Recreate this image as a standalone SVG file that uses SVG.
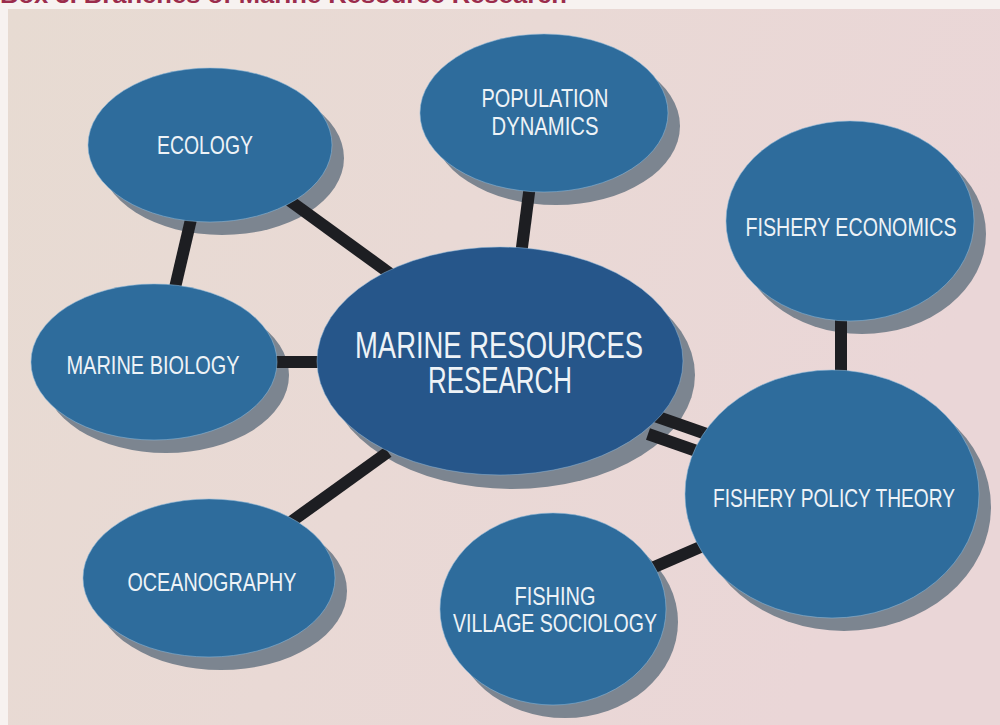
<svg xmlns="http://www.w3.org/2000/svg" width="1000" height="725" viewBox="0 0 1000 725">
  <defs>
    <linearGradient id="paper" x1="0" y1="0" x2="1" y2="0.3">
      <stop offset="0" stop-color="#e7dbd2"/>
      <stop offset="0.5" stop-color="#e9d9d5"/>
      <stop offset="1" stop-color="#ead6d7"/>
    </linearGradient>
    <style>
      .shadow { fill: #7c8590; }
      .node { fill: #2e6c9c; stroke: #8db8d9; stroke-width: 1; stroke-opacity: 0.55; }
      .hub { fill: #26568a; stroke: #8db8d9; stroke-width: 1; stroke-opacity: 0.5; }
      .link { stroke: #1d1e22; stroke-width: 12; stroke-linecap: butt; fill: none; }
      .label { fill: #eef3f7; font-family: "Liberation Sans", Arial, sans-serif; font-size: 25px; text-anchor: middle; }
      .hub-label { font-size: 37px; }
      .title { fill: #9b2c4c; font-family: "Liberation Sans", Arial, sans-serif; font-weight: bold; font-size: 24px; }
    </style>
  </defs>

  <!-- page and panel -->
  <rect x="0" y="0" width="1000" height="725" fill="#f7f2f0"/>
  <rect x="8" y="9" width="992" height="716" fill="url(#paper)"/>
  <text class="title" x="0" y="3" textLength="567" lengthAdjust="spacingAndGlyphs">Box 3. Branches of Marine Resource Research</text>

  <!-- drop shadows under every ellipse -->
  <g id="shadows">
    <ellipse class="shadow" cx="222" cy="158" rx="122" ry="77"/>
    <ellipse class="shadow" cx="556" cy="126" rx="124" ry="79"/>
    <ellipse class="shadow" cx="862" cy="234" rx="124" ry="100"/>
    <ellipse class="shadow" cx="166" cy="375" rx="123" ry="78"/>
    <ellipse class="shadow" cx="512" cy="375" rx="183" ry="114"/>
    <ellipse class="shadow" cx="844" cy="507" rx="147" ry="124"/>
    <ellipse class="shadow" cx="221" cy="591" rx="126" ry="79"/>
    <ellipse class="shadow" cx="565" cy="622" rx="113" ry="96"/>
  </g>

  <!-- connectors -->
  <g id="connectors">
    <line class="link" x1="286" y1="198" x2="392" y2="275"/>
    <line class="link" x1="192" y1="215" x2="174" y2="292"/>
    <line class="link" x1="530" y1="185" x2="521" y2="255"/>
    <line class="link" x1="270" y1="362" x2="325" y2="362"/>
    <line class="link" x1="388" y1="452" x2="288" y2="524"/>
    <line class="link" x1="841" y1="315" x2="841" y2="378"/>
    <line class="link" x1="705" y1="545" x2="652" y2="568"/>
    <line class="link" stroke-width="11" x1="655" y1="416" x2="715" y2="437"/>
    <line class="link" stroke-width="11" x1="648" y1="434" x2="708" y2="455"/>
  </g>

  <g id="ecology">
    <ellipse class="node" cx="210" cy="145" rx="122" ry="77"/>
    <text class="label" x="205" y="154" textLength="96" lengthAdjust="spacingAndGlyphs">ECOLOGY</text>
  </g>

  <g id="population-dynamics">
    <ellipse class="node" cx="544" cy="113" rx="124" ry="79"/>
    <text class="label" x="545" y="107" textLength="127" lengthAdjust="spacingAndGlyphs">POPULATION</text>
    <text class="label" x="545" y="135" textLength="107" lengthAdjust="spacingAndGlyphs">DYNAMICS</text>
  </g>

  <g id="fishery-economics">
    <ellipse class="node" cx="850" cy="221" rx="124" ry="100"/>
    <text class="label" x="851" y="236" textLength="211" lengthAdjust="spacingAndGlyphs">FISHERY ECONOMICS</text>
  </g>

  <g id="marine-biology">
    <ellipse class="node" cx="154" cy="362" rx="123" ry="78"/>
    <text class="label" x="153" y="374" textLength="173" lengthAdjust="spacingAndGlyphs">MARINE BIOLOGY</text>
  </g>

  <g id="marine-resources-research">
    <ellipse class="hub" cx="500" cy="361" rx="183" ry="114"/>
    <text class="label hub-label" x="499" y="358" textLength="288" lengthAdjust="spacingAndGlyphs">MARINE RESOURCES</text>
    <text class="label hub-label" x="500" y="393" textLength="144" lengthAdjust="spacingAndGlyphs">RESEARCH</text>
  </g>

  <g id="fishery-policy-theory">
    <ellipse class="node" cx="832" cy="494" rx="147" ry="124"/>
    <text class="label" x="834" y="507" textLength="242" lengthAdjust="spacingAndGlyphs">FISHERY POLICY THEORY</text>
  </g>

  <g id="oceanography">
    <ellipse class="node" cx="209" cy="578" rx="126" ry="79"/>
    <text class="label" x="212" y="591" textLength="169" lengthAdjust="spacingAndGlyphs">OCEANOGRAPHY</text>
  </g>

  <g id="fishing-village-sociology">
    <ellipse class="node" cx="553" cy="609" rx="113" ry="96"/>
    <text class="label" x="555" y="605" textLength="81" lengthAdjust="spacingAndGlyphs">FISHING</text>
    <text class="label" x="555" y="632" textLength="204" lengthAdjust="spacingAndGlyphs">VILLAGE SOCIOLOGY</text>
  </g>
</svg>
